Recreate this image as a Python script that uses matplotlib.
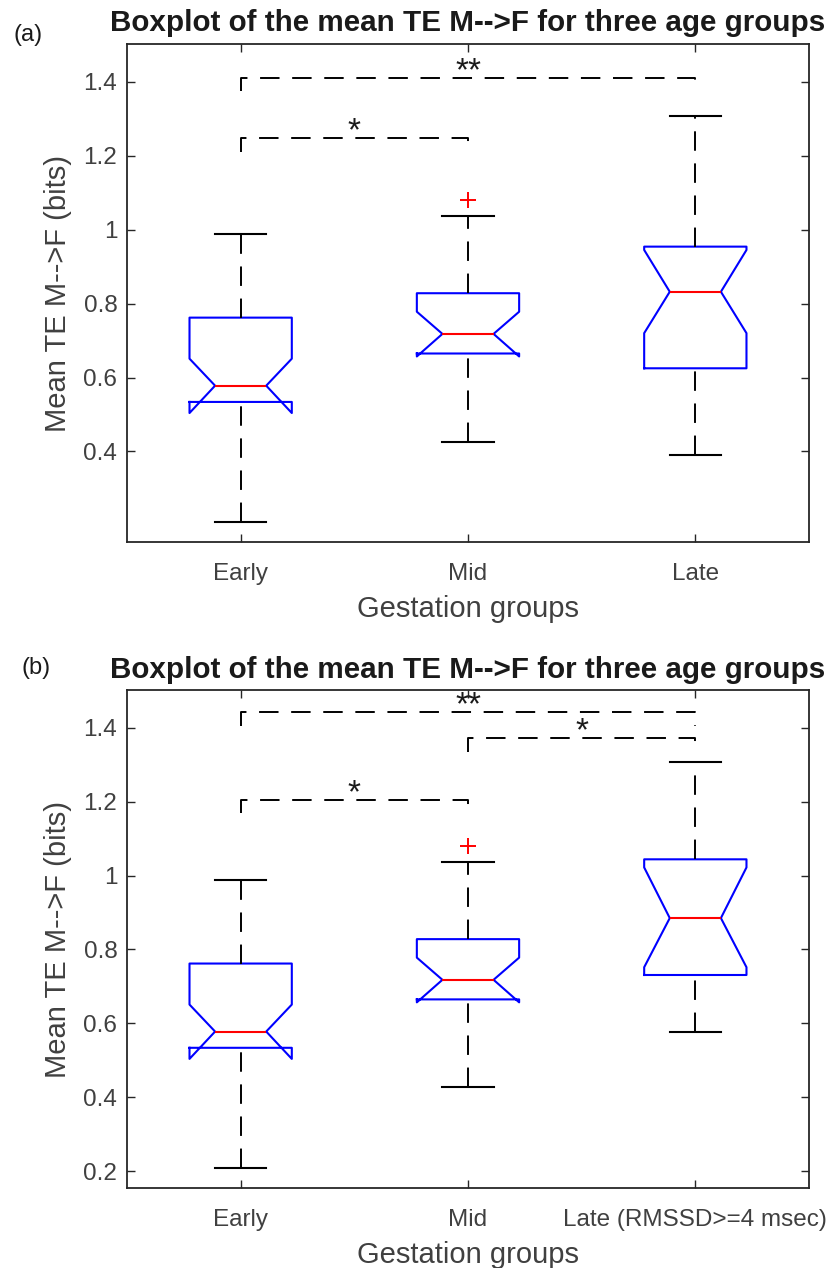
import matplotlib
matplotlib.use('Agg')
import matplotlib.pyplot as plt

plt.rcParams['font.family'] = ['Liberation Sans', 'DejaVu Sans']

# box statistics (bits)
groups = ['Early', 'Mid', 'Late']
groups_b = ['Early', 'Mid', 'Late (RMSSD>=4 msec)']
q1 = [0.534, 0.665, 0.625]
med = [0.578, 0.718, 0.832]
q3 = [0.762, 0.828, 0.954]
ci_lo = [0.504, 0.657, 0.720]
ci_hi = [0.651, 0.778, 0.945]
whis_lo = [0.209, 0.427, 0.390]
whis_hi = [0.988, 1.036, 1.308]
outliers = [[], [1.080], []]

# late group restricted to RMSSD>=4 msec (panel b)
late_b = dict(q1=0.731, med=0.885, q3=1.044, cilo=0.752, cihi=1.022,
              whislo=0.577, whishi=1.308)

# significance brackets: (group i, group j, height, stars)
sig_a = [(1, 3, 1.411, '**'), (1, 2, 1.247, '*')]
sig_b = [(1, 3, 1.442, '**'), (2, 3, 1.371, '*'), (1, 2, 1.205, '*')]

axcol = '#262626'
txtcol = '#404040'
dash = (0, (10, 6.5))


def make_stats(late=None):
    out = []
    for i in range(3):
        s = dict(q1=q1[i], med=med[i], q3=q3[i], cilo=ci_lo[i], cihi=ci_hi[i],
                 whislo=whis_lo[i], whishi=whis_hi[i], fliers=outliers[i])
        if i == 2 and late is not None:
            s.update(late)
        out.append(s)
    return out


def draw_panel(ax, stats, labels, sigs):
    bp = ax.bxp(stats, positions=[1, 2, 3], widths=0.45, shownotches=True,
                boxprops=dict(color='blue', lw=1.5),
                medianprops=dict(color='red', lw=1.5),
                whiskerprops=dict(color='black', lw=1.4, linestyle=dash),
                capprops=dict(color='black', lw=1.5),
                flierprops=dict(marker='+', markeredgecolor='red', markersize=12,
                                markeredgewidth=1.4, linestyle='none'))
    # matlab draws both whiskers bottom to top
    for w in bp['whiskers'][0::2]:
        w.set_ydata(w.get_ydata()[::-1])

    leg = 0.036
    for i, j, h, star in sigs:
        ax.plot([i, i, j, j], [h - leg, h, h, h - leg], color='black', lw=1.4,
                linestyle=dash)
        ax.text((i + j) / 2, h - 0.006, star, ha='center', va='baseline',
                fontsize=24, color='#1a1a1a')

    ax.set_xlim(0.5, 3.5)
    ax.set_ylim(0.154, 1.502)
    ax.set_xticks([1, 2, 3])
    ax.set_xticklabels(labels)
    ax.tick_params(direction='in', top=True, right=True, length=5.5, width=1.0,
                   color=axcol, labelcolor=txtcol, labelsize=17.5)
    ax.tick_params(axis='x', pad=15)
    ax.tick_params(axis='y', pad=7)
    for sp in ax.spines.values():
        sp.set_color(axcol)
        sp.set_linewidth(1.3)
    ax.set_xlabel('Gestation groups', fontsize=21, color=txtcol, labelpad=7)
    ax.set_ylabel('Mean TE M-->F (bits)', fontsize=21, color=txtcol)
    ax.yaxis.set_label_coords(-0.081, 0.5)
    ax.set_title('Boxplot of the mean TE M-->F for three age groups',
                 fontsize=21.3, fontweight='bold', color='#1a1a1a', pad=9)


fig = plt.figure(figsize=(8.36, 12.68), dpi=100)
ax1 = fig.add_axes([0.1519, 0.5722, 0.8158, 0.3931])
ax2 = fig.add_axes([0.1519, 0.0629, 0.8158, 0.3929])

draw_panel(ax1, make_stats(), groups, sig_a)
ax1.set_yticks([0.4, 0.6, 0.8, 1.0, 1.2, 1.4])
ax1.set_yticklabels(['0.4', '0.6', '0.8', '1', '1.2', '1.4'])

draw_panel(ax2, make_stats(late_b), groups_b, sig_b)
ax2.set_yticks([0.2, 0.4, 0.6, 0.8, 1.0, 1.2, 1.4])
ax2.set_yticklabels(['0.2', '0.4', '0.6', '0.8', '1', '1.2', '1.4'])

fig.text(28 / 836, 1 - 35 / 1268, '(a)', ha='center', va='center', fontsize=17,
         color='#1a1a1a')
fig.text(36 / 836, 1 - 668 / 1268, '(b)', ha='center', va='center', fontsize=17,
         color='#1a1a1a')

fig.savefig('out.png', dpi=100)
